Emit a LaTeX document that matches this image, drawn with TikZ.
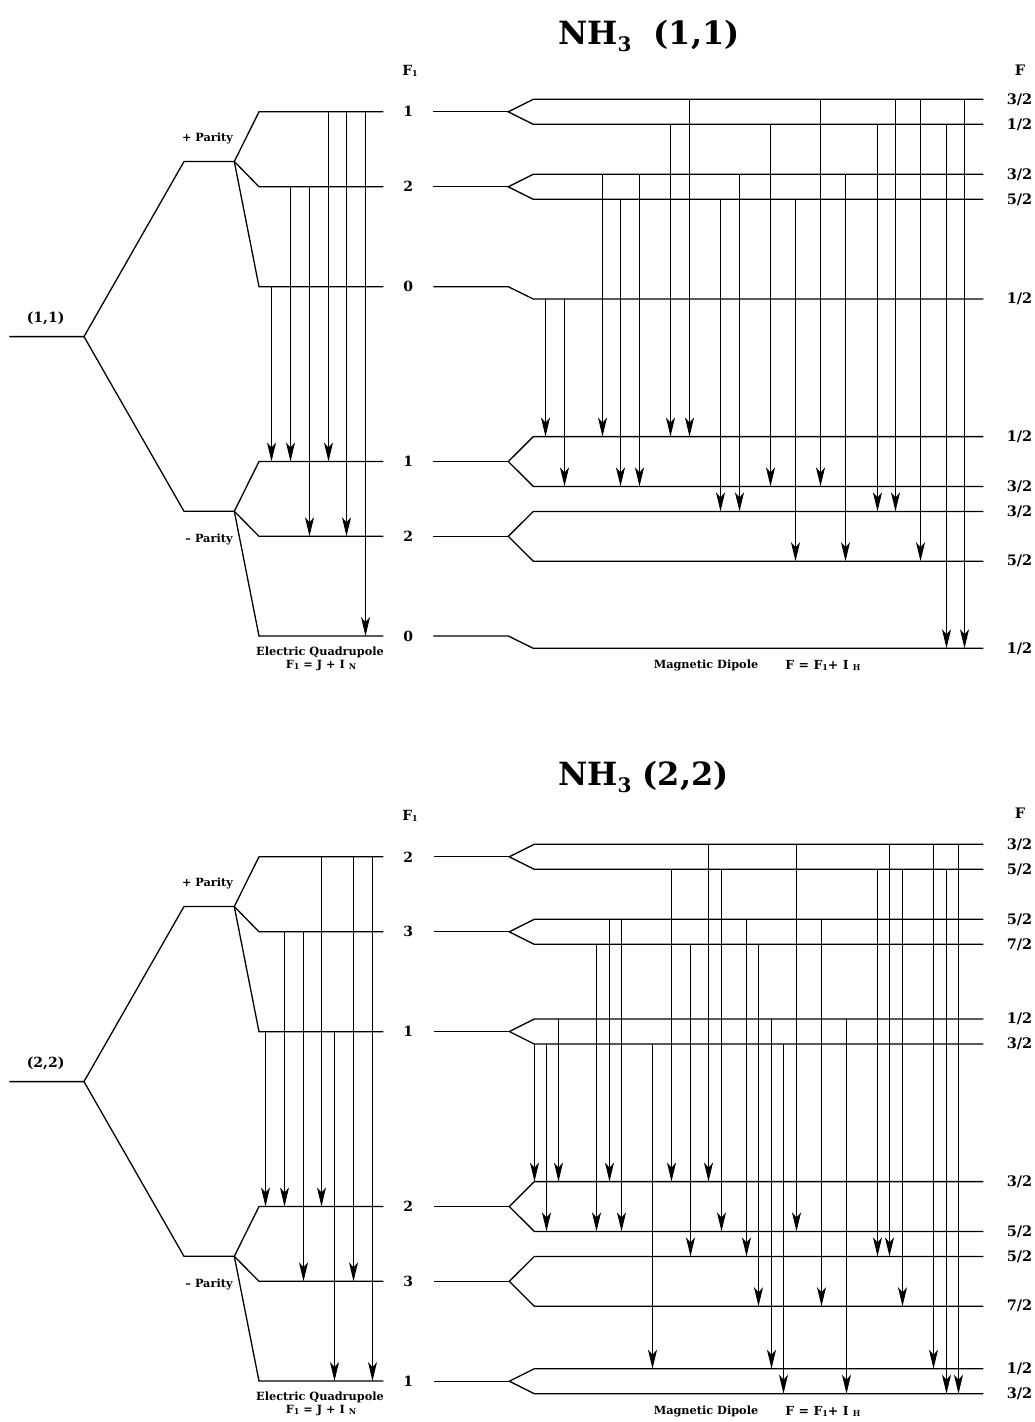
\documentclass[tikz,border=0pt]{standalone}
\usepackage{fontspec}
\setmainfont{DejaVu Serif}
\usetikzlibrary{arrows.meta}
\newcommand\Fone{F\raisebox{-1pt}{\fontsize{8}{8}\selectfont 1}}
\newcommand\drawEQ[8]{%
  \begin{scope}[shift={(0,#1)}]
    \draw[lvl] (9.3,336.6) -- (84,336.6) -- (184,161.5) -- (234.3,161.5);
    \draw[lvl] (84,336.6) -- (184,511.3) -- (234.3,511.3);
    \foreach \a/\b in {161.5/111.8,161.5/186.8,161.5/286.7,511.3/461.5,511.3/536.3,511.3/636}
      \draw[lvl] (234.3,\a) -- (259,\b) -- (383.3,\b);
    \node[lab] (jl) at (45.6,318) {#2};
    \node[sml] (pp) at (207.5,138) {+ Parity};
    \node[sml] (mp) at (209,539) {\textendash{} Parity};
    \node[lab] (f1) at (410,70.4) {\Fone};
    \node[lab] (n1) at (408.3,111.8) {#3};
    \node[lab] (n2) at (408.3,186.8) {#4};
    \node[lab] (n3) at (408.3,286.7) {#5};
    \node[lab] (n4) at (408.3,461.5) {#6};
    \node[lab] (n5) at (408.3,536.3) {#7};
    \node[lab] (n6) at (408.3,636) {#8};
    \node[sml] (eq) at (320,652.6) {Electric Quadrupole};
    \node[sml] (eqf) at (321,666) {\Fone\ = J + I \raisebox{-1pt}{\fontsize{8}{8}\selectfont N}};
  \end{scope}}
\begin{document}
\begin{tikzpicture}[x=1pt,y=-1pt,
  lvl/.style={line width=1.3pt},
  tr/.style={line width=1.1pt,-{Stealth[length=19pt,width=9pt,inset=5pt]}},
  lab/.style={font=\fontsize{14}{14}\selectfont\bfseries, inner sep=0pt},
  sml/.style={font=\fontsize{11.3}{11.3}\selectfont\bfseries, inner sep=0pt},
  ttl/.style={font=\fontsize{32}{32}\selectfont\bfseries, inner sep=0pt, anchor=base west},
  rl/.style={font=\fontsize{14.5}{14.5}\selectfont\bfseries, inner sep=0pt},
]
\useasboundingbox (0,0) rectangle (1034,1422);
\fill[white] (0,0) rectangle (1034,1422);

% ================= TOP: NH3 (1,1) =================
\node[ttl] (t1) at (558,44) {NH\raisebox{-7pt}{\fontsize{20}{20}\selectfont 3}\hspace{22pt}(1,1)};
\drawEQ{0}{(1,1)}{1}{2}{0}{1}{2}{0}

% magnetic levels
\foreach \y in {111.8,186.8} {
  \draw[lvl] (433.3,\y) -- (508.3,\y);
  \draw[lvl] (983.3,{\y-12.5}) -- (533.3,{\y-12.5}) -- (508.3,\y) -- (533.3,{\y+12.5}) -- (983.3,{\y+12.5});
}
\draw[lvl] (433.3,286.7) -- (508.3,286.7) -- (533.3,299) -- (983.3,299);
\foreach \y in {461.5,536.3} {
  \draw[lvl] (433.3,\y) -- (508.3,\y);
  \draw[lvl] (983.3,{\y-24.9}) -- (533.3,{\y-24.9}) -- (508.3,\y) -- (533.3,{\y+24.9}) -- (983.3,{\y+24.9});
}
\draw[lvl] (433.3,636) -- (508.3,636) -- (533.3,648.3) -- (983.3,648.3);

% right labels
\node[rl] (tF) at (1020,70) {F};
\foreach \y/\t in {99.3/3\slash 2,124.3/1\slash 2,174.3/3\slash 2,199.3/5\slash 2,299/1\slash 2,436.6/1\slash 2,486.4/3\slash 2,511.4/3\slash 2,561.2/5\slash 2,648.3/1\slash 2}
  \node[rl] at (1019.5,\y) {\t};

% electric transitions
\foreach \x/\a/\b in {271.5/286.7/461.5,290.5/186.8/461.5,309.5/186.8/536.3,328.5/111.8/461.5,346.5/111.8/536.3,365.5/111.8/636}
  \draw[tr] (\x,\a) -- (\x,\b);

% magnetic transitions
\foreach \x/\a/\b in {545.5/299/436.6,564.5/299/486.4,602.5/174.3/436.6,620.5/199.3/486.4,639.5/174.3/486.4,670.5/124.3/436.6,689.5/99.3/436.6,720.5/199.3/511.4,739.5/174.3/511.4,770.5/124.3/486.4,795.5/199.3/561.2,820.5/99.3/486.4,845.5/174.3/561.2,877.5/124.3/511.4,895.5/99.3/511.4,920.5/99.3/561.2,946.5/124.3/648.3,964.5/99.3/648.3}
  \draw[tr] (\x,\a) -- (\x,\b);

\node[sml] (md1) at (706,665) {Magnetic Dipole};
\node[sml,font=\fontsize{12.5}{12.5}\selectfont\bfseries] (mf1) at (823,665) {F = \Fone+ I \raisebox{-1pt}{\fontsize{8}{8}\selectfont H}};

% ================= BOTTOM: NH3 (2,2) =================
\node[ttl] (t2) at (558,785) {NH\raisebox{-7pt}{\fontsize{20}{20}\selectfont 3}\ (2,2)};
\drawEQ{745}{(2,2)}{2}{3}{1}{2}{3}{1}

\foreach \y in {856.8,931.8,1031.5,1381.2} {
  \draw[lvl] (434.3,\y) -- (509.3,\y);
  \draw[lvl] (983.3,{\y-12.5}) -- (534.3,{\y-12.5}) -- (509.3,\y) -- (534.3,{\y+12.5}) -- (983.3,{\y+12.5});
}
\foreach \y in {1206.5,1281.3} {
  \draw[lvl] (434.3,\y) -- (509.3,\y);
  \draw[lvl] (983.3,{\y-24.9}) -- (534.3,{\y-24.9}) -- (509.3,\y) -- (534.3,{\y+24.9}) -- (983.3,{\y+24.9});
}

\node[rl] (bF) at (1020,813.3) {F};
\foreach \y/\t in {844.3/3\slash 2,869.3/5\slash 2,919.3/5\slash 2,944.3/7\slash 2,1019/1\slash 2,1044/3\slash 2,1181.6/3\slash 2,1231.4/5\slash 2,1256.4/5\slash 2,1306.2/7\slash 2,1368.7/1\slash 2,1393.7/3\slash 2}
  \node[rl] at (1019.5,\y) {\t};

\foreach \x/\a/\b in {265.5/1031.7/1206.5,284.5/931.8/1206.5,303.5/931.8/1281.3,321.5/856.8/1206.5,334.5/1031.7/1381,353.5/856.8/1281.3,372.5/856.8/1381}
  \draw[tr] (\x,\a) -- (\x,\b);

\foreach \x/\a/\b in {534.5/1044/1181.6,546.5/1044/1231.4,558.5/1019/1181.6,596.5/944.3/1231.4,609.5/919.3/1181.6,621.5/919.3/1231.4,652.5/1044/1368.7,671.5/869.3/1181.6,690.5/944.3/1256.4,708.5/844.3/1181.6,721.5/869.3/1231.4,746.5/919.3/1256.4,758.5/944.3/1306.2,771.5/1019/1368.7,783.5/1044/1393.7,796.5/844.3/1231.4,821.5/919.3/1306.2,846.5/1019/1393.7,877.5/869.3/1256.4,889.5/844.3/1256.4,902.5/869.3/1306.2,933.5/844.3/1368.7,946.5/869.3/1393.7,958.5/844.3/1393.7}
  \draw[tr] (\x,\a) -- (\x,\b);

\node[sml] (md2) at (706,1411) {Magnetic Dipole};
\node[sml,font=\fontsize{12.5}{12.5}\selectfont\bfseries] (mf2) at (823,1411) {F = \Fone+ I \raisebox{-1pt}{\fontsize{8}{8}\selectfont H}};
\end{tikzpicture}
\end{document}
